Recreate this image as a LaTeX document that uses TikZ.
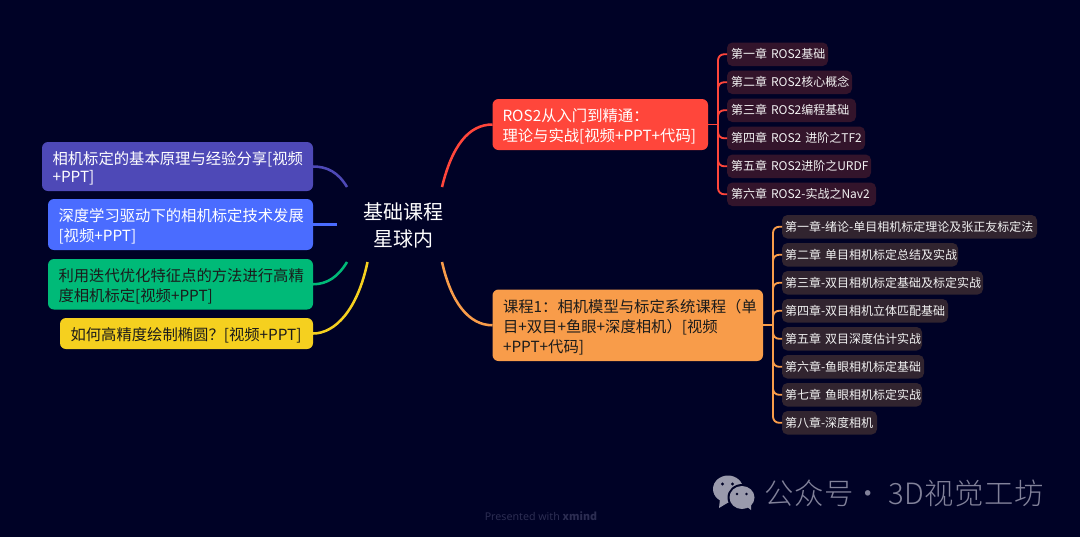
\documentclass[tikz,border=0pt]{standalone}
\usepackage{fontspec}
\usetikzlibrary{calc}
\setmainfont{Noto Sans}
\newfontfamily\cjk{Noto Sans CJK SC}
\newfontfamily\cjklight[LetterSpace=2]{Noto Sans CJK SC Light}
\definecolor{bgc}{HTML}{000226}
\definecolor{purp}{HTML}{4E49B7}
\definecolor{blu}{HTML}{4A6CFF}
\definecolor{grn}{HTML}{00BA78}
\definecolor{yel}{HTML}{F5D01F}
\definecolor{red1}{HTML}{FF463B}
\definecolor{org}{HTML}{F89C4A}
\definecolor{itemr}{HTML}{33142B}
\definecolor{itemo}{HTML}{31242F}
\definecolor{ink}{HTML}{1B1B1B}
\definecolor{wm}{HTML}{82829A}
\definecolor{wmi}{HTML}{9A9AAC}
\definecolor{pres}{HTML}{2C2D52}
\newcommand\ct[1]{\mbox{#1}}
\newcommand\lift[1]{\rule{0pt}{#1}}
\tikzset{
  px box/.style n args={3}{anchor=north west,rectangle,inner xsep=#3*0.75pt,inner ysep=0pt,outer sep=0pt,
    minimum width=#1*0.75pt,minimum height=#2*0.75pt,text width=#1*0.75pt-#3*1.5pt,align=left},
  topic/.style={rounded corners=4.5pt,font=\cjk\fontsize{11.5pt}{15pt}\selectfont,execute at begin node=\lift{12.5pt}},
  chap/.style={rounded corners=4pt,font=\cjk\fontsize{9pt}{12pt}\selectfont,text=white!95!black},
  trunk/.style={line width=1.9pt},
  twig/.style={line width=1.4pt,rounded corners=4.5pt},
}
\begin{document}
\begin{tikzpicture}[x=0.75pt,y=-0.75pt]
\useasboundingbox (0,0) rectangle (1080,537);
\fill[bgc] (0,0) rectangle (1080,537);

% centre
\node[px box={132}{75}{0},align=center,font=\cjk\fontsize{15pt}{20.2pt}\selectfont,text=white,execute at begin node=\lift{14.5pt}] (hub) at (337,187) {基础课程\\星球内};

% left topics
\node[px box={271}{49}{10.5},topic,fill=purp,text=white,font=\cjk\fontsize{11.5pt}{14pt}\selectfont] (l1) at (42,142) {相机标定的基本原理与经验分享[视频\\+PPT]};
\node[px box={265}{51}{10.5},topic,fill=blu,text=white] (l2) at (48,199) {深度学习驱动下的相机标定技术发展\\{}[视频+PPT]};
\node[px box={265}{50.5}{10.5},topic,fill=grn,text=ink] (l3) at (48,259) {利用迭代优化特征点的方法进行高精\\度相机标定[视频+PPT]};
\node[px box={253}{31}{10.5},topic,fill=yel,text=ink,execute at begin node=\lift{11.5pt}] (l4) at (60,318) {如何高精度绘制椭圆？[视频+PPT]};

% right topics
\node[px box={215.5}{51}{10},topic,fill=red1,text=white] (r1) at (492.5,99) {ROS2从入门到精通：\\理论与实战[视频+PPT+代码]};
\node[px box={270.5}{71.5}{10.5},topic,fill=org,text=ink] (r2) at (492.5,289.5) {课程1：相机模型与标定系统课程（单\\目+双目+鱼眼+深度相机）[视频\\+PPT+代码]};

% ROS2 chapters
\node[px box={101}{23.5}{4},chap,fill=itemr] (a1) at (727,42.5) {\ct{第一章 ROS2基础}};
\node[px box={125}{23.5}{4},chap,fill=itemr] (a2) at (727,70.5) {\ct{第二章 ROS2核心概念}};
\node[px box={129}{23.5}{4},chap,fill=itemr] (a3) at (727,98.5) {\ct{第三章 ROS2编程基础}};
\node[px box={138}{23.5}{4},chap,fill=itemr] (a4) at (727,126.5) {\ct{第四章 ROS2 进阶之TF2}};
\node[px box={144}{23.5}{4},chap,fill=itemr] (a5) at (727,154.5) {\ct{第五章 ROS2进阶之URDF}};
\node[px box={149}{23.5}{4},chap,fill=itemr] (a6) at (727,182.5) {\ct{第六章 ROS2-实战之Nav2}};

% camera chapters
\node[px box={255}{23.5}{3},chap,fill=itemo] (b1) at (782,215) {\ct{第一章-绪论-单目相机标定理论及张正友标定法}};
\node[px box={176}{23.5}{3},chap,fill=itemo] (b2) at (782,243) {\ct{第二章 单目相机标定总结及实战}};
\node[px box={201}{23.5}{3},chap,fill=itemo] (b3) at (782,271) {\ct{第三章-双目相机标定基础及标定实战}};
\node[px box={166}{23.5}{3},chap,fill=itemo] (b4) at (782,299) {\ct{第四章-双目相机立体匹配基础}};
\node[px box={140}{23.5}{3},chap,fill=itemo] (b5) at (782,327) {\ct{第五章 双目深度估计实战}};
\node[px box={142}{23.5}{3},chap,fill=itemo] (b6) at (782,355) {\ct{第六章-鱼眼相机标定基础}};
\node[px box={140}{23.5}{3},chap,fill=itemo] (b7) at (782,383) {\ct{第七章 鱼眼相机标定实战}};
\node[px box={95}{23.5}{3},chap,fill=itemo] (b8) at (782,411) {\ct{第八章-深度相机}};

% trunk connectors
\draw[trunk,red1] ($(hub.north)+(39,0)$) .. controls +(10,-41) and +(-24,0) .. (r1.west);
\draw[trunk,org] ($(hub.south)+(39,0)$) .. controls +(9,40) and +(-24,0) .. (r2.west);
\draw[trunk,purp] ($(hub.north)+(-56,0)$) .. controls +(-9,-15) and +(14,0) .. (l1.east);
\draw[trunk,blu] (hub.west) -- (l2.east |- hub.west);
\draw[trunk,grn] ($(hub.south)+(-56,0)$) .. controls +(-9,15) and +(14,0) .. (l3.east);
\draw[trunk,yel] ($(hub.south)+(-35.5,0)$) .. controls +(-10,48) and +(22,0) .. (l4.east);

% twig connectors
\coordinate (sa) at ($(r1.east)+(10,0)$);
\coordinate (sb) at ($(r2.east)+(10,0)$);
\draw[twig,red1,rounded corners=0pt] (r1.east) -- (sa);
\foreach \n in {a1,a2,a3,a4,a5,a6} \draw[twig,red1] (sa) |- (\n.west);
\draw[twig,org,rounded corners=0pt] (r2.east) -- (sb);
\foreach \n in {b1,b2,b3,b4,b5,b6,b7,b8} \draw[twig,org] (sb) |- (\n.west);

% watermark
\fill[wmi] (728,489) ellipse [x radius=15,y radius=13.5];
\fill[wmi] (720,499) -- (719,508) -- (729,502) -- cycle;
\fill[bgc] (742,497.5) ellipse [x radius=14.5,y radius=13.5];
\fill[wmi] (742,497.5) ellipse [x radius=12.5,y radius=11.5];
\fill[wmi] (746,506) -- (751,510) -- (751,503) -- cycle;
\fill[bgc] (722.5,484) circle (1.7) (732.5,484) circle (1.7) (737,494) circle (1.4) (746.5,494) circle (1.4);
\node[anchor=west,inner sep=0pt,font=\cjklight\fontsize{22pt}{24pt}\selectfont,text=wm] (wmt) at (764,493) {公众号\hspace{-0.3pt}·\hspace{4.5pt}3D视觉工坊};
\node[anchor=west,inner sep=0pt,font=\fontsize{8pt}{9pt}\selectfont,text=pres] (prs) at (484.5,516) {Presented with {\cjk\bfseries xmind}};
\end{tikzpicture}
\end{document}
